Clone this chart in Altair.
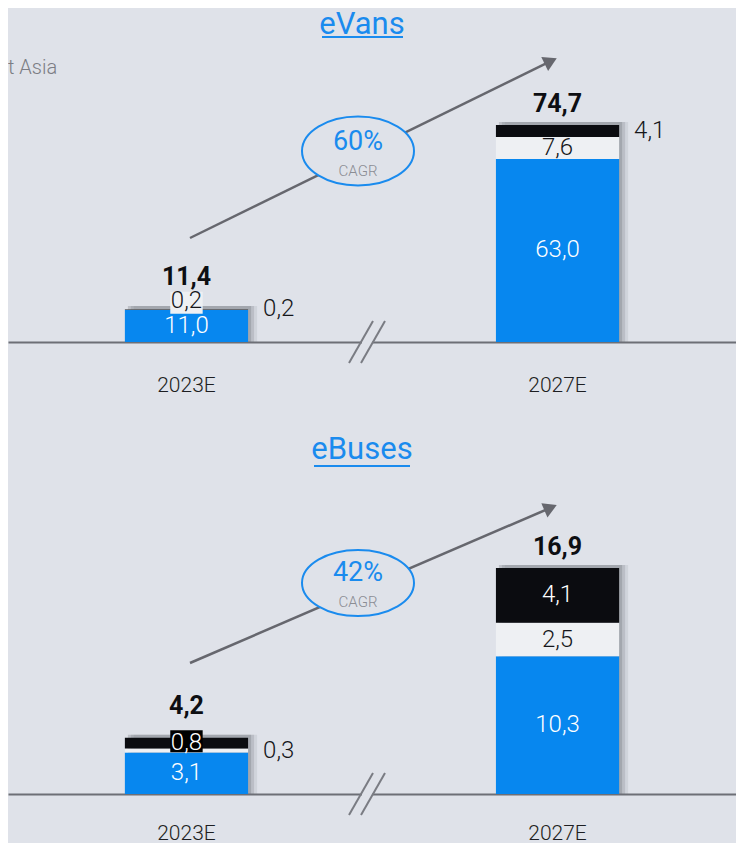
import math
import altair as alt
import pandas as pd

# ---------------- data ----------------
years = ["2023E", "2027E"]
panel_titles = ["eVans", "eBuses"]
cagr_values = ["60%", "42%"]
cagr_caption = "CAGR"
region_note = "t Asia"

evans_seg1 = [11.0, 63.0]
evans_seg2 = [0.2, 7.6]
evans_seg3 = [0.2, 4.1]
evans_total = [11.4, 74.7]

ebuses_seg1 = [3.1, 10.3]
ebuses_seg2 = [0.3, 2.5]
ebuses_seg3 = [0.8, 4.1]
ebuses_total = [4.2, 16.9]

# ---------------- style ----------------
BG = "#dfe2e9"
BLUE = "#0787ef"
TITLE_BLUE = "#1a8bee"
LIGHT = "#eef0f3"
DARK = "#0b0c10"
GRAY = "#66676e"
FONT = "Roboto, 'Noto Sans', sans-serif"
W = 728


def fmt(v):
    return f"{v:.1f}".replace(".", ",")


def ellipse_path(ratio):
    return f"M -1 0 A 1 {ratio:.3f} 0 1 1 1 0 A 1 {ratio:.3f} 0 1 1 -1 0 Z"


def one():
    return pd.DataFrame({"k": [0]})


def panel(title, seg1, seg2, seg3, total, cagr, ymax, height, placement, ann,
          note=None, label_pad=32):
    rows = []
    for i, yr in enumerate(years):
        base = 0.0
        for seg, vals in (("s1", seg1), ("s2", seg2), ("s3", seg3)):
            v = vals[i]
            rows.append({
                "year": yr, "seg": seg, "y0": base, "y1": base + v,
                "mid": base + v / 2, "label": fmt(v),
                "kind": placement[(yr, seg)],
                "tcol": "#ffffff" if seg in ("s1", "s3") else "#15161a",
            })
            base += v
    bars = pd.DataFrame(rows)
    tot = pd.DataFrame({"year": years, "total": total, "zero": [0.0, 0.0],
                        "label": [fmt(t) for t in total]})

    xscale = alt.Scale(domain=years, paddingInner=0.668, paddingOuter=0.315)
    xaxis = alt.Axis(title=None, labelAngle=0, ticks=False, tickSize=0,
                     domainColor="#6d6f76", domainWidth=2, labelPadding=label_pad,
                     labelFontSize=21, labelFont=FONT, labelFontWeight=300,
                     labelColor="#1d1e22", grid=False)
    x_enc = alt.X("year:N", scale=xscale, axis=xaxis)
    yscale = alt.Scale(domain=[0, ymax], nice=False, zero=True)

    layers = []
    # shadows
    for off, op in ((3, 0.30), (6, 0.22), (9, 0.12)):
        layers.append(
            alt.Chart(tot).mark_bar(color="#6f7179", opacity=op, xOffset=off, yOffset=-3)
            .encode(x=x_enc, y=alt.Y("total:Q", scale=yscale, axis=None), y2="zero:Q")
        )
    # stacked bars
    layers.append(
        alt.Chart(bars).mark_bar()
        .encode(
            x=x_enc,
            y=alt.Y("y0:Q", scale=yscale, axis=None),
            y2="y1:Q",
            color=alt.Color("seg:N", scale=alt.Scale(domain=["s1", "s2", "s3"],
                                                     range=[BLUE, LIGHT, DARK]), legend=None),
        )
    )

    # label background boxes
    box_path = "M -1 -0.68 L 1 -0.68 L 1 0.68 L -1 0.68 Z"
    for kind, fillc, yoff in (("in_up", LIGHT, -7), ("in_box", "#000000", -2)):
        sub = bars[bars["kind"] == kind]
        if len(sub):
            layers.append(
                alt.Chart(sub).mark_point(shape=box_path, size=1050, filled=True,
                                          color=fillc, opacity=1, yOffset=yoff)
                .encode(x=x_enc, y=alt.Y("mid:Q", scale=yscale, axis=None))
            )

    # inside labels
    for kind, dy in (("in", 0), ("in_box", 0), ("in_up", -9)):
        sub = bars[bars["kind"] == kind]
        if len(sub):
            layers.append(
                alt.Chart(sub).mark_text(font=FONT, fontSize=24, fontWeight=300,
                                         baseline="middle", dy=dy)
                .encode(x=x_enc, y=alt.Y("mid:Q", scale=yscale, axis=None),
                        text="label:N", color=alt.Color("tcol:N", scale=None))
            )
    # right labels
    sub = bars[bars["kind"] == "right"]
    if len(sub):
        layers.append(
            alt.Chart(sub).mark_text(font=FONT, fontSize=24, fontWeight=300,
                                     baseline="middle", align="left", dx=15, color="#15161a")
            .encode(x=alt.X("year:N", scale=xscale, axis=xaxis, bandPosition=1),
                    y=alt.Y("mid:Q", scale=yscale, axis=None), text="label:N")
        )
    # totals
    for yr, dy in ((years[0], -32), (years[1], -21)):
        layers.append(
            alt.Chart(tot[tot["year"] == yr]).mark_text(font=FONT, fontSize=25, fontWeight="bold",
                                                       baseline="middle", dy=dy, color="#0d0e12")
            .encode(x=x_enc, y=alt.Y("total:Q", scale=yscale, axis=None), text="label:N")
        )

    # title + underline
    layers.append(
        alt.Chart(pd.DataFrame({"t": [title]})).mark_text(
            font=FONT, fontSize=31, color=TITLE_BLUE, baseline="middle")
        .encode(x=alt.value(ann["title_x"]), y=alt.value(ann["title_y"]), text="t:N")
    )
    layers.append(
        alt.Chart(one()).mark_rule(color=TITLE_BLUE, strokeWidth=2)
        .encode(x=alt.value(ann["ul"][0]), x2=alt.value(ann["ul"][1]),
                y=alt.value(ann["ul"][2]))
    )
    if note:
        layers.append(
            alt.Chart(pd.DataFrame({"t": [note]})).mark_text(
                font=FONT, fontSize=20, fontWeight=300, color="#7b7d84",
                align="left", baseline="middle")
            .encode(x=alt.value(0), y=alt.value(ann["note_y"]), text="t:N")
        )

    # arrow
    x1, y1, x2, y2 = ann["arrow"]
    ang = math.degrees(math.atan2(y2 - y1, x2 - x1))
    L = math.hypot(x2 - x1, y2 - y1)
    ux, uy = (x2 - x1) / L, (y2 - y1) / L
    hx, hy = x2 - 7 * ux, y2 - 7 * uy
    layers.append(
        alt.Chart(one()).mark_rule(color=GRAY, strokeWidth=2.5)
        .encode(x=alt.value(x1), y=alt.value(y1), x2=alt.value(hx), y2=alt.value(hy))
    )
    layers.append(
        alt.Chart(one()).mark_point(shape="triangle-right", size=240, filled=True,
                                    color=GRAY, opacity=1, angle=(ang + 360) % 360)
        .encode(x=alt.value(hx), y=alt.value(hy))
    )

    # CAGR ellipse
    cx, cy, rx, ry = ann["ellipse"]
    layers.append(
        alt.Chart(one()).mark_point(shape=ellipse_path(ry / rx), size=(2 * rx) ** 2,
                                    filled=True, color=BG, opacity=1,
                                    stroke=TITLE_BLUE, strokeWidth=2, strokeOpacity=1)
        .encode(x=alt.value(cx), y=alt.value(cy))
    )
    layers.append(
        alt.Chart(pd.DataFrame({"t": [cagr]})).mark_text(
            font=FONT, fontSize=27, color=TITLE_BLUE, baseline="middle")
        .encode(x=alt.value(cx), y=alt.value(ann["pct_y"]), text="t:N")
    )
    layers.append(
        alt.Chart(pd.DataFrame({"t": [cagr_caption]})).mark_text(
            font=FONT, fontSize=15, fontWeight=300, color="#8b8d94", baseline="middle")
        .encode(x=alt.value(cx), y=alt.value(ann["cagr_y"]), text="t:N")
    )

    # axis break: gap in the axis line, then two slashes
    b = height
    layers.append(
        alt.Chart(one()).mark_rule(color=BG, strokeWidth=4)
        .encode(x=alt.value(354), x2=alt.value(364), y=alt.value(b))
    )
    for sx in (341, 353):
        layers.append(
            alt.Chart(one()).mark_rule(color="#7a7c83", strokeWidth=2)
            .encode(x=alt.value(sx), y=alt.value(b + 21), x2=alt.value(sx + 24),
                    y2=alt.value(b - 21))
        )

    return alt.layer(*layers).properties(width=W, height=height)


p1 = panel(
    panel_titles[0], evans_seg1, evans_seg2, evans_seg3, evans_total, cagr_values[0],
    ymax=334 / 2.905, height=334,
    placement={("2023E", "s1"): "in", ("2023E", "s2"): "in_up", ("2023E", "s3"): "right",
               ("2027E", "s1"): "in", ("2027E", "s2"): "in", ("2027E", "s3"): "right"},
    ann={"title_x": 354, "title_y": 17, "ul": (314, 395, 29), "note_y": 60,
         "arrow": (182, 230, 549, 50), "ellipse": (350, 143, 56, 34.5),
         "pct_y": 134, "cagr_y": 163},
    note=region_note,
)

p2 = panel(
    panel_titles[1], ebuses_seg1, ebuses_seg2, ebuses_seg3, ebuses_total, cagr_values[1],
    ymax=366 / 13.37, height=366,
    placement={("2023E", "s1"): "in", ("2023E", "s2"): "right", ("2023E", "s3"): "in_box",
               ("2027E", "s1"): "in", ("2027E", "s2"): "in", ("2027E", "s3"): "in"},
    ann={"title_x": 354, "title_y": 22, "ul": (306, 402, 38),
         "arrow": (182, 235, 549, 77), "ellipse": (350, 155, 56, 33),
         "pct_y": 145, "cagr_y": 174},
    label_pad=28,
)

chart = (
    alt.vconcat(p1, p2, spacing=33)
    .properties(padding=0)
    .configure(background=BG)
    .configure_view(stroke=None)
)

chart.save("out.html", embed_options={"renderer": "svg", "actions": False})
